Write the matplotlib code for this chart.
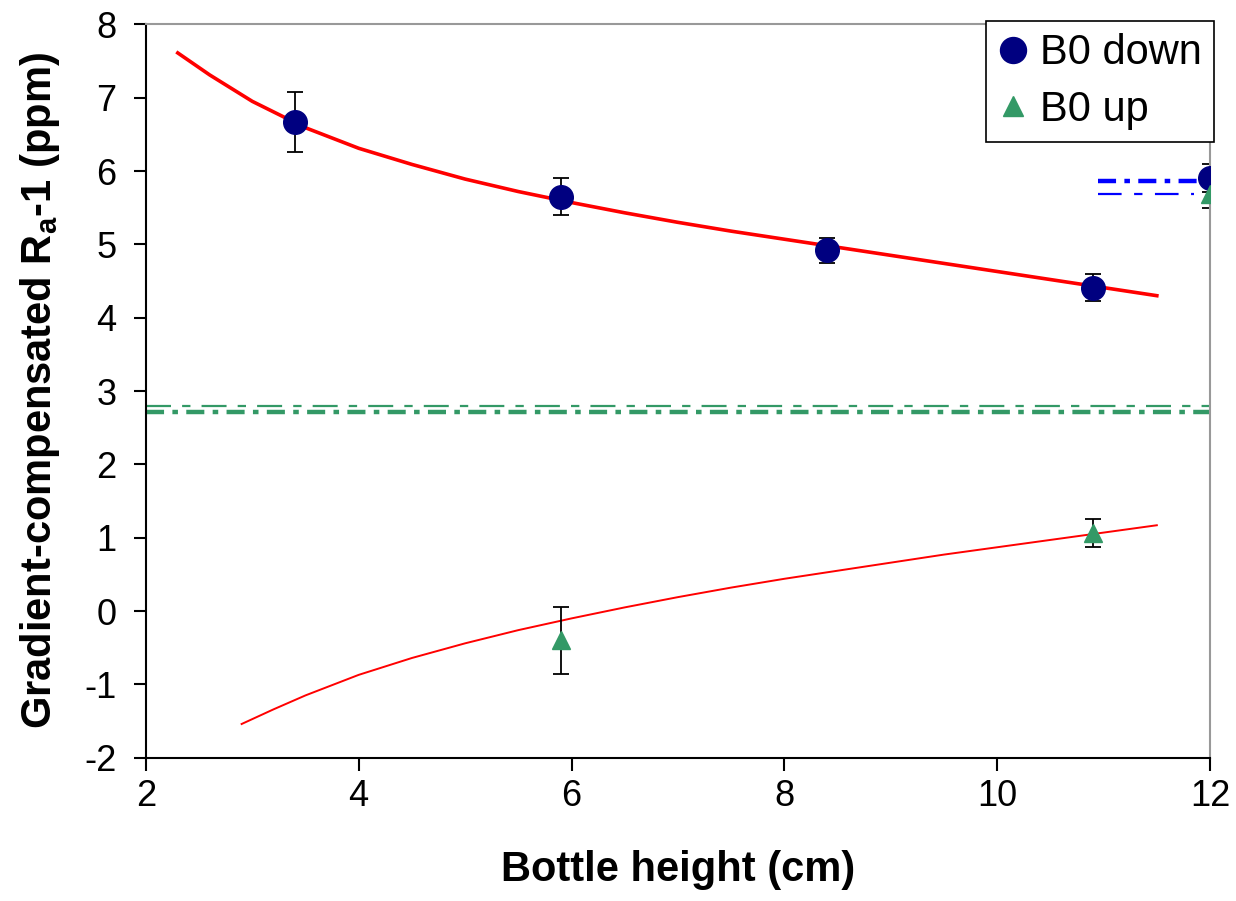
import matplotlib
matplotlib.use('Agg')
import matplotlib.pyplot as plt

plt.rcParams['font.family'] = ['Liberation Sans', 'DejaVu Sans']
plt.rcParams['mathtext.fontset'] = 'custom'
plt.rcParams['mathtext.rm'] = 'Liberation Sans'
plt.rcParams['mathtext.bf'] = 'Liberation Sans:bold'
plt.rcParams['lines.scale_dashes'] = False
plt.rcParams['axes.unicode_minus'] = False

# measured points
down_x = [3.4, 5.9, 8.4, 10.9, 12]
down_y = [6.67, 5.65, 4.92, 4.41, 5.91]
down_err = [0.41, 0.25, 0.17, 0.18, 0.19]
up_x = [5.9, 10.9, 12]
up_y = [-0.40, 1.06, 5.69]
up_err = [0.46, 0.19, 0.19]

# fit curves
fit_down_x = [2.3, 2.6, 3.0, 3.5, 4.0, 4.5, 5.0, 5.5, 6.0, 6.5, 7.0, 7.5, 8.0, 8.5, 9.0, 9.5, 10.0, 10.5, 11.0, 11.5]
fit_down_y = [7.61, 7.31, 6.95, 6.59, 6.31, 6.09, 5.89, 5.72, 5.57, 5.43, 5.30, 5.18, 5.07, 4.96, 4.85, 4.74, 4.63, 4.52, 4.41, 4.30]
fit_up_x = [2.9, 3.2, 3.5, 4.0, 4.5, 5.0, 5.5, 6.0, 6.5, 7.0, 7.5, 8.0, 8.5, 9.0, 9.5, 10.0, 10.5, 11.0, 11.5]
fit_up_y = [-1.54, -1.34, -1.15, -0.87, -0.64, -0.44, -0.26, -0.10, 0.05, 0.19, 0.32, 0.44, 0.55, 0.66, 0.77, 0.87, 0.97, 1.07, 1.17]

# horizontal reference lines
green_x = [2, 12]
green_thick_y = 2.71
green_thin_y = 2.80
blue_thick_x = [10.95, 12]
blue_thick_y = 5.87
blue_thin_x = [10.95, 11.85]
blue_thin_y = 5.69

navy = '#000080'
green = '#339966'

fig = plt.figure(figsize=(12.36, 9.01), dpi=100)
ax = fig.add_axes([0.118, 0.159, 0.861, 0.814])

ax.plot(green_x, [green_thin_y] * 2, color=green, lw=1.6, dashes=(18, 8, 6, 8))
ax.plot(green_x, [green_thick_y] * 2, color=green, lw=3.2, dashes=(13, 6, 4, 6))
ax.plot(blue_thin_x, [blue_thin_y] * 2, color='blue', lw=1.6, dashes=(17, 9, 6, 9))
ax.plot(blue_thick_x, [blue_thick_y] * 2, color='blue', lw=3.2, dashes=(13, 6, 4, 6))

ax.plot(fit_down_x, fit_down_y, color='red', lw=2.6)
ax.plot(fit_up_x, fit_up_y, color='red', lw=1.4)

ax.errorbar(down_x, down_y, yerr=down_err, fmt='none', ecolor='black', elinewidth=1.3, capsize=6, capthick=1.3)
ax.errorbar(up_x, up_y, yerr=up_err, fmt='none', ecolor='black', elinewidth=1.3, capsize=6, capthick=1.3)
ax.plot(down_x, down_y, 'o', color=navy, ms=17, ls='none', label='B0 down', zorder=4)
ax.plot(up_x, up_y, '^', color=green, ms=13, ls='none', label='B0 up', zorder=5)

ax.set_xlim(2, 12)
ax.set_ylim(-2, 8)
ax.set_xticks([2, 4, 6, 8, 10, 12])
ax.set_yticks(range(-2, 9))
ax.tick_params(labelsize=26, direction='out', length=9, width=1.5)
ax.tick_params(axis='y', pad=12)
ax.tick_params(axis='x', pad=6)
ax.spines['left'].set_linewidth(1.5)
ax.spines['bottom'].set_linewidth(1.5)
for s in ['top', 'right']:
    ax.spines[s].set_color('#999999')
    ax.spines[s].set_linewidth(1.5)

ax.set_xlabel('Bottle height (cm)', fontsize=30, fontweight='bold', labelpad=26)
ax.set_ylabel(r'Gradient-compensated R$_\mathbf{a}$-1 (ppm)', fontsize=30, fontweight='bold', labelpad=16)

leg = ax.legend(loc='upper right', bbox_to_anchor=(1.004, 1.005), fontsize=30, frameon=True, fancybox=False,
                handlelength=0.7, handletextpad=0.3, borderpad=0.3, labelspacing=0.4, borderaxespad=0,
                framealpha=1, markerscale=1.1)
leg.get_frame().set_edgecolor('black')
leg.get_frame().set_linewidth(1.2)

fig.savefig('out.png', dpi=100)
